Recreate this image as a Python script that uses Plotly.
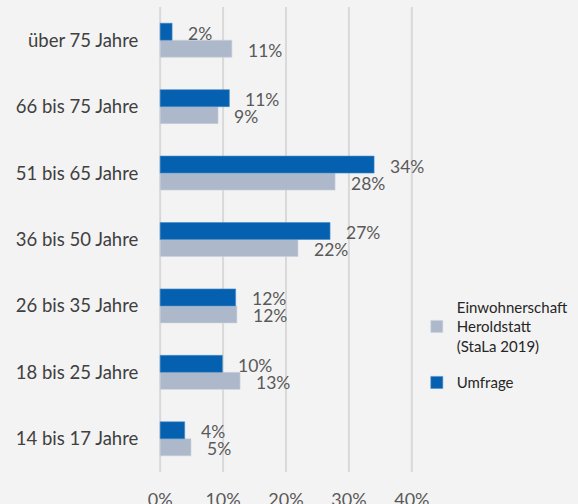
import plotly.graph_objects as go

categories = ["14 bis 17 Jahre", "18 bis 25 Jahre", "26 bis 35 Jahre", "36 bis 50 Jahre",
              "51 bis 65 Jahre", "66 bis 75 Jahre", "über 75 Jahre"]
umfrage = [3.9, 9.9, 12.0, 27.0, 34.0, 11.0, 1.9]
einwohner = [4.9, 12.7, 12.2, 21.9, 27.8, 9.2, 11.4]
umfrage_labels = ["4%", "10%", "12%", "27%", "34%", "11%", "2%"]
einwohner_labels = ["5%", "13%", "12%", "22%", "28%", "9%", "11%"]
x_ticks = [0, 10, 20, 30, 40]
x_tick_labels = ["0%", "10%", "20%", "30%", "40%"]

FONT = "Lato"
BLUE = "#0561AF"
GRAY = "#ADB9CA"
BG = "#F3F3F3"
GRID = "#D9D9D9"

fig = go.Figure()
fig.add_trace(go.Bar(
    y=categories, x=einwohner, orientation="h",
    name="Einwohnerschaft<br>Heroldstatt<br>(StaLa 2019)",
    marker=dict(color=GRAY, line=dict(color="#C9D1DD", width=0.6)),
    legendgroup="a", hoverinfo="skip",
))
fig.add_trace(go.Bar(
    y=categories, x=umfrage, orientation="h",
    name="Umfrage",
    marker=dict(color=BLUE, line=dict(color="#4A8BC8", width=0.6)),
    legendgroup="b", hoverinfo="skip",
))

# vertical gridlines at the tick values (drawn below the bars)
for t in x_ticks:
    fig.add_shape(type="line", xref="x", yref="paper", x0=t, x1=t, y0=0, y1=1,
                  line=dict(color=GRID, width=2), layer="below")

annotations = []
for cat, v, lab in zip(categories, umfrage, umfrage_labels):
    annotations.append(dict(x=v, y=cat, xref="x", yref="y", text=lab, showarrow=False,
                            xanchor="left", yanchor="middle", xshift=14, yshift=7,
                            font=dict(family=FONT, size=17.5, color="#595959")))
for cat, v, lab in zip(categories, einwohner, einwohner_labels):
    annotations.append(dict(x=v, y=cat, xref="x", yref="y", text=lab, showarrow=False,
                            xanchor="left", yanchor="middle", xshift=14, yshift=-10,
                            font=dict(family=FONT, size=17.5, color="#595959")))

fig.update_layout(
    width=578, height=504,
    margin=dict(l=156.85, r=162.85, t=7, b=32, autoexpand=False),
    paper_bgcolor=BG, plot_bgcolor=BG,
    barmode="group", bargap=0.488, bargroupgap=0.0,
    font=dict(family=FONT, color="#404040"),
    annotations=annotations,
    legend=dict(x=1.007, xanchor="left", y=0.39, yanchor="top",
                traceorder="grouped", tracegroupgap=14, valign="middle",
                font=dict(family=FONT, size=15, color="#262626"),
                bgcolor="rgba(0,0,0,0)"),
    xaxis=dict(range=[-0.5, 40.5], tickvals=x_ticks, ticktext=x_tick_labels,
               showgrid=False, zeroline=False,
               showline=False, ticks="outside", ticklen=11, tickcolor="rgba(0,0,0,0)",
               tickfont=dict(family=FONT, size=18, color="#595959"),
               automargin=False, fixedrange=True),
    yaxis=dict(categoryorder="array", categoryarray=categories,
               showgrid=False, zeroline=False, showline=False,
               ticks="outside", ticklen=14, tickcolor="rgba(0,0,0,0)",
               tickfont=dict(family=FONT, size=18.5, color="#404040"),
               automargin=False, fixedrange=True),
)

fig.write_html("out.html")
